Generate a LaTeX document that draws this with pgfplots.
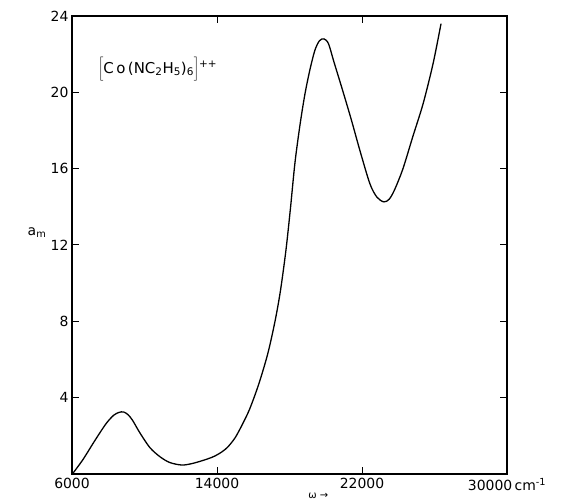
\documentclass[border=0pt]{standalone}
\usepackage{fontspec}
\setmainfont{DejaVu Sans}
\usepackage{pgfplots}
\pgfplotsset{compat=1.18}

\begin{document}
\begin{tikzpicture}
\begin{axis}[
  scale only axis,
  width=435bp, height=458bp,
  xmin=6000, xmax=30000,
  ymin=0, ymax=24,
  xtick={6000,14000,22000,30000},
  xticklabels={6000,14000,22000,{30000\,cm\textsuperscript{-1}}},
  ytick={4,8,12,16,20,24},
  tick align=inside,
  major tick length=7bp,
  axis line style={line width=1.1pt},
  every tick/.style={line width=1pt, black},
  /pgf/number format/assume math mode=true,
  ticklabel style={font=\fontsize{14}{16}\selectfont},
  scaled x ticks=false,
  xticklabel style={yshift=-1bp},
  clip=false,
]
\addplot[black, line width=1.3pt, smooth] coordinates {
  (6060,0.05) (6600,0.75) (7160,1.6) (7600,2.25) (7930,2.7) (8300,3.08)
  (8600,3.23) (8850,3.25) (9100,3.1) (9350,2.8) (9750,2.15) (10300,1.38)
  (10860,0.9) (11400,0.6) (12070,0.47) (12680,0.56) (13450,0.78) (13900,0.95)
  (14300,1.18) (14600,1.42) (15000,1.9) (15400,2.6) (15800,3.4)
  (16300,4.7) (16800,6.3) (17200,8.0) (17500,9.6) (17800,11.7) (18050,13.9)
  (18300,16.3) (18580,18.3) (18850,19.9) (19130,21.2) (19400,22.2)
  (19650,22.7) (19900,22.8) (20150,22.55) (20450,21.6) (20900,20.2)
  (21400,18.6) (21900,16.9) (22440,15.2) (22830,14.5) (23210,14.26)
  (23500,14.4) (23800,14.9) (24260,16.0) (24810,17.7) (25370,19.4)
  (25920,21.5) (26360,23.6)
};
\node[anchor=west, font=\fontsize{15}{17}\selectfont] at (axis cs:7250,21.2)
  {$\biggl[$C\,o\,(NC\textsubscript{2}H\textsubscript{5})\textsubscript{6}$\biggr]$\textsuperscript{++}};
\node[font=\fontsize{14}{16}\selectfont] at ([xshift=-35bp]rel axis cs:0,0.528) {a\textsubscript{m}};
\node[font=\fontsize{10}{12}\selectfont, anchor=north] at ([yshift=-16bp]rel axis cs:0.566,0) {ω →};
\coordinate (bl) at (rel axis cs:0,0);
\coordinate (tr) at (rel axis cs:1,1);
\end{axis}
\pgfresetboundingbox
\path[use as bounding box] ([xshift=-72bp,yshift=-28bp]bl) rectangle ([xshift=65bp,yshift=16bp]tr);
\end{tikzpicture}
\end{document}
